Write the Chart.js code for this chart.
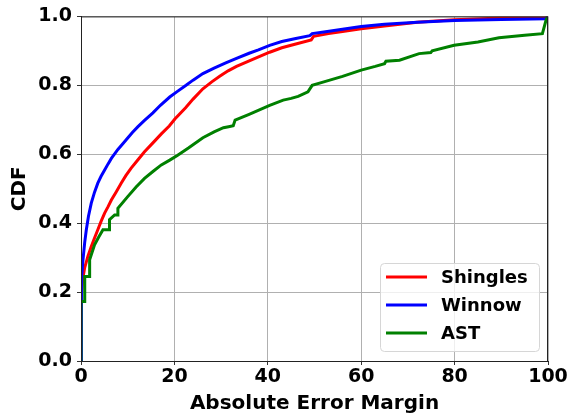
<!DOCTYPE html>
<html lang="en">
<head>
    <meta charset="UTF-8">
    <title>CDF of Absolute Error Margin</title>
    <style>
        body {
            margin: 0;
            background: #fff;
        }
        canvas {
            display: block;
        }
    </style>
    <script src="https://cdn.jsdelivr.net/npm/chart.js"></script>
</head>
<body>
    <canvas id="cdf-chart" width="573" height="417"></canvas>

    <script>
        // values
        const shinglesX = [0, 0, 0.4, 0.78, 1.5, 2.2, 2.9, 3.6, 4.3, 5.06, 5.8, 6.5, 7.5, 8.6, 9.6, 10.7, 12.2, 13.6, 15.4, 17.2, 18.9, 20.1, 22.4, 24, 26.1, 28, 29.7, 31.5, 33.3, 36.9, 40.4, 43, 46, 49.3, 49.8, 53, 56, 60, 65, 72, 80, 90, 99.5, 100];
        const shinglesY = [0, 0.18, 0.24, 0.27, 0.305, 0.332, 0.357, 0.381, 0.405, 0.429, 0.448, 0.467, 0.49, 0.516, 0.538, 0.559, 0.584, 0.607, 0.633, 0.659, 0.682, 0.702, 0.735, 0.76, 0.79, 0.81, 0.826, 0.842, 0.855, 0.876, 0.896, 0.909, 0.92, 0.932, 0.942, 0.95, 0.956, 0.964, 0.972, 0.983, 0.99, 0.995, 0.996, 1.0];

        const winnowX = [0, 0, 0.2, 0.43, 0.8, 1.14, 1.6, 2.2, 2.9, 3.6, 4.3, 5.06, 5.8, 6.5, 7.2, 7.9, 9, 10, 11, 12.2, 13.6, 15.4, 17, 19, 20.5, 22.5, 24, 26.1, 28.5, 31, 33.3, 36, 38, 40.4, 43, 46, 49, 49.5, 52, 56, 60, 65, 72, 80, 90, 99.5, 100];
        const winnowY = [0, 0.19, 0.24, 0.294, 0.345, 0.381, 0.42, 0.458, 0.49, 0.516, 0.536, 0.554, 0.572, 0.588, 0.601, 0.614, 0.631, 0.647, 0.663, 0.68, 0.698, 0.72, 0.742, 0.766, 0.781, 0.80, 0.815, 0.834, 0.85, 0.865, 0.878, 0.893, 0.903, 0.916, 0.927, 0.936, 0.944, 0.95, 0.955, 0.963, 0.971, 0.977, 0.983, 0.988, 0.991, 0.993, 1.0];

        const astX = [0, 0, 0.8, 0.8, 1.85, 1.85, 2.9, 3.8, 4.7, 6.1, 6.1, 7.2, 7.9, 7.9, 10, 11.8, 13.6, 15.4, 17.2, 19, 20.7, 23, 26.1, 28.5, 30.5, 31.6, 32.6, 33, 36, 40.4, 43.3, 45, 46.5, 48.6, 49.5, 52, 56, 60, 63, 65, 65.3, 68.2, 72.4, 74.9, 75.2, 79.9, 85, 89.5, 95, 98.8, 99.6, 100];
        const astY = [0, 0.173, 0.173, 0.245, 0.245, 0.294, 0.337, 0.36, 0.381, 0.381, 0.41, 0.424, 0.424, 0.443, 0.477, 0.505, 0.53, 0.55, 0.569, 0.583, 0.597, 0.618, 0.648, 0.665, 0.677, 0.68, 0.683, 0.699, 0.716, 0.742, 0.757, 0.762, 0.768, 0.781, 0.80, 0.81, 0.826, 0.844, 0.855, 0.863, 0.87, 0.873, 0.892, 0.895, 0.90, 0.916, 0.926, 0.938, 0.945, 0.95, 0.99, 1.0];

        const seriesNames = ['Shingles', 'Winnow', 'AST'];
        const seriesColors = ['#ff0000', '#0000ff', '#008000'];

        const xTicks = [0, 20, 40, 60, 80, 100];
        const yTicks = [0, 0.2, 0.4, 0.6, 0.8, 1.0];

        const FONT = '"DejaVu Sans", sans-serif';

        function toPoints(xs, ys) {
            return xs.map((x, i) => ({ x: x, y: ys[i] }));
        }

        // box around the whole plot area (matplotlib spines)
        const frame = {
            id: 'frame',
            afterDatasetsDraw(chart) {
                const a = chart.chartArea;
                const ctx = chart.ctx;
                ctx.save();
                ctx.strokeStyle = '#222';
                ctx.lineWidth = 1;
                ctx.strokeRect(a.left + 0.5, a.top + 0.5, a.right - a.left - 1, a.bottom - a.top);
                ctx.restore();
            }
        };

        // legend in the lower right corner, inside the axes
        const innerLegend = {
            id: 'innerLegend',
            afterDraw(chart) {
                const a = chart.chartArea;
                const ctx = chart.ctx;
                const w = 159, h = 88;
                const x0 = a.right - 9 - w;
                const y0 = a.bottom - 10 - h;
                ctx.save();
                ctx.beginPath();
                ctx.roundRect(x0 + 0.5, y0 + 0.5, w, h, 4);
                ctx.fillStyle = 'rgba(255,255,255,0.8)';
                ctx.fill();
                ctx.strokeStyle = '#d6d6d6';
                ctx.lineWidth = 1;
                ctx.stroke();

                ctx.font = 'bold 18px ' + FONT;
                ctx.textBaseline = 'middle';
                ctx.fillStyle = '#000';
                seriesNames.forEach((name, i) => {
                    const y = y0 + 14 + i * 28;
                    ctx.beginPath();
                    ctx.moveTo(x0 + 6, y);
                    ctx.lineTo(x0 + 47, y);
                    ctx.strokeStyle = seriesColors[i];
                    ctx.lineWidth = 3;
                    ctx.stroke();
                    ctx.fillText(name, x0 + 61, y + 1);
                });
                ctx.restore();
            }
        };

        const allX = [shinglesX, winnowX, astX];
        const allY = [shinglesY, winnowY, astY];

        const datasets = seriesNames.map((name, i) => ({
            label: name,
            data: toPoints(allX[i], allY[i]),
            borderColor: seriesColors[i],
            backgroundColor: seriesColors[i],
            borderWidth: 3,
            pointRadius: 0,
            tension: 0,
            fill: false,
            order: 2 - i   // AST drawn on top, like the original
        }));

        const ctx = document.getElementById('cdf-chart').getContext('2d');
        new Chart(ctx, {
            type: 'line',
            data: { datasets: datasets },
            options: {
                responsive: false,
                animation: false,
                layout: {
                    padding: { top: 16, right: 25, left: 0, bottom: 0 }
                },
                plugins: {
                    legend: { display: false },
                    tooltip: { enabled: false }
                },
                scales: {
                    x: {
                        type: 'linear',
                        min: 0,
                        max: 100,
                        afterBuildTicks(scale) {
                            scale.ticks = xTicks.map(v => ({ value: v }));
                        },
                        afterFit(scale) {
                            scale.height = 56;
                        },
                        ticks: {
                            color: '#000',
                            font: { family: FONT, size: 19, weight: 'bold' },
                            padding: 1,
                            maxRotation: 0
                        },
                        grid: {
                            color: '#b0b0b0',
                            lineWidth: 1,
                            tickLength: 4,
                            tickColor: '#333'
                        },
                        border: { color: '#222', width: 1 },
                        title: {
                            display: true,
                            text: 'Absolute Error Margin',
                            color: '#000',
                            font: { family: FONT, size: 20, weight: 'bold' },
                            padding: { top: 0, bottom: 1 }
                        }
                    },
                    y: {
                        type: 'linear',
                        min: 0,
                        max: 1,
                        afterBuildTicks(scale) {
                            scale.ticks = yTicks.map(v => ({ value: v }));
                        },
                        afterFit(scale) {
                            scale.width = 81;
                        },
                        ticks: {
                            color: '#000',
                            font: { family: FONT, size: 19, weight: 'bold' },
                            padding: 5,
                            callback: v => v.toFixed(1)
                        },
                        grid: {
                            color: '#b0b0b0',
                            lineWidth: 1,
                            tickLength: 4,
                            tickColor: '#333'
                        },
                        border: { color: '#222', width: 1 },
                        title: {
                            display: true,
                            text: 'CDF',
                            color: '#000',
                            font: { family: FONT, size: 20, weight: 'bold' },
                            padding: { top: 8, bottom: 0 }
                        }
                    }
                }
            },
            plugins: [frame, innerLegend]
        });
    </script>
</body>
</html>
